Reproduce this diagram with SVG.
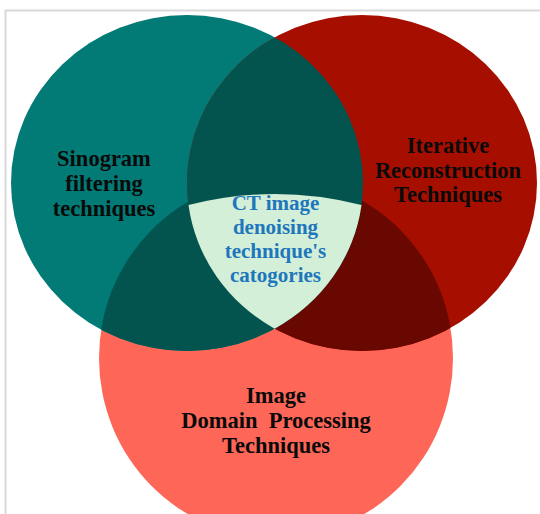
<svg xmlns="http://www.w3.org/2000/svg" width="540" height="514" viewBox="0 0 540 514">
  <style>
    .lbl { font-family: "Liberation Serif", "Times New Roman", serif; font-weight: bold; font-size: 22.5px; fill: #0a0a0a; text-anchor: middle; }
    .ctr { font-family: "Liberation Serif", "Times New Roman", serif; font-weight: bold; font-size: 21px; fill: #1e76bd; text-anchor: middle; }
    .frame { stroke: #d9d9d9; stroke-width: 2; fill: none; }
  </style>
  <defs>
    <clipPath id="clipTeal"><ellipse cx="187" cy="183" rx="176" ry="168"/></clipPath>
    <clipPath id="clipRed"><ellipse cx="362" cy="183" rx="175" ry="168"/></clipPath>
  </defs>
  <rect x="0" y="0" width="540" height="514" fill="#ffffff"/>
  <path class="frame" d="M 5.5 514 L 5.5 10.5 L 540 10.5"/>

  <g id="image-domain">
    <ellipse cx="276" cy="358" rx="177" ry="180" fill="#fe6658"/>
  </g>
  <g id="sinogram">
    <ellipse cx="187" cy="183" rx="176" ry="168" fill="#027b77"/>
  </g>
  <g id="iterative">
    <ellipse cx="362" cy="183" rx="175" ry="168" fill="#a60f00"/>
  </g>

  <g id="overlaps">
    <g clip-path="url(#clipRed)">
      <ellipse cx="276" cy="358" rx="177" ry="180" fill="#690800"/>
    </g>
    <g clip-path="url(#clipTeal)">
      <ellipse cx="276" cy="358" rx="177" ry="180" fill="#03544f"/>
      <ellipse cx="362" cy="183" rx="175" ry="168" fill="#03544f"/>
    </g>
  </g>

  <g id="center">
    <path d="M 188.5 205 Q 275 183 361.5 205 A 176 168 0 0 1 274.6 328.7 A 175 168 0 0 1 188.5 205 Z" fill="#d3efd7"/>
    <text class="ctr" x="275.5" y="210">CT image</text>
    <text class="ctr" x="275.5" y="234">denoising</text>
    <text class="ctr" x="275.5" y="258">technique's</text>
    <text class="ctr" x="275.5" y="282">catogories</text>
  </g>

  <g id="sinogram-label">
    <text class="lbl" x="104" y="166">Sinogram</text>
    <text class="lbl" x="104" y="191">filtering</text>
    <text class="lbl" x="104" y="216">techniques</text>
  </g>
  <g id="iterative-label">
    <text class="lbl" x="448" y="153">Iterative</text>
    <text class="lbl" x="448" y="178">Reconstruction</text>
    <text class="lbl" x="448" y="202">Techniques</text>
  </g>
  <g id="image-domain-label">
    <text class="lbl" x="276" y="403">Image</text>
    <text class="lbl" x="276" y="428" xml:space="preserve">Domain  Processing</text>
    <text class="lbl" x="276" y="453">Techniques</text>
  </g>
</svg>
